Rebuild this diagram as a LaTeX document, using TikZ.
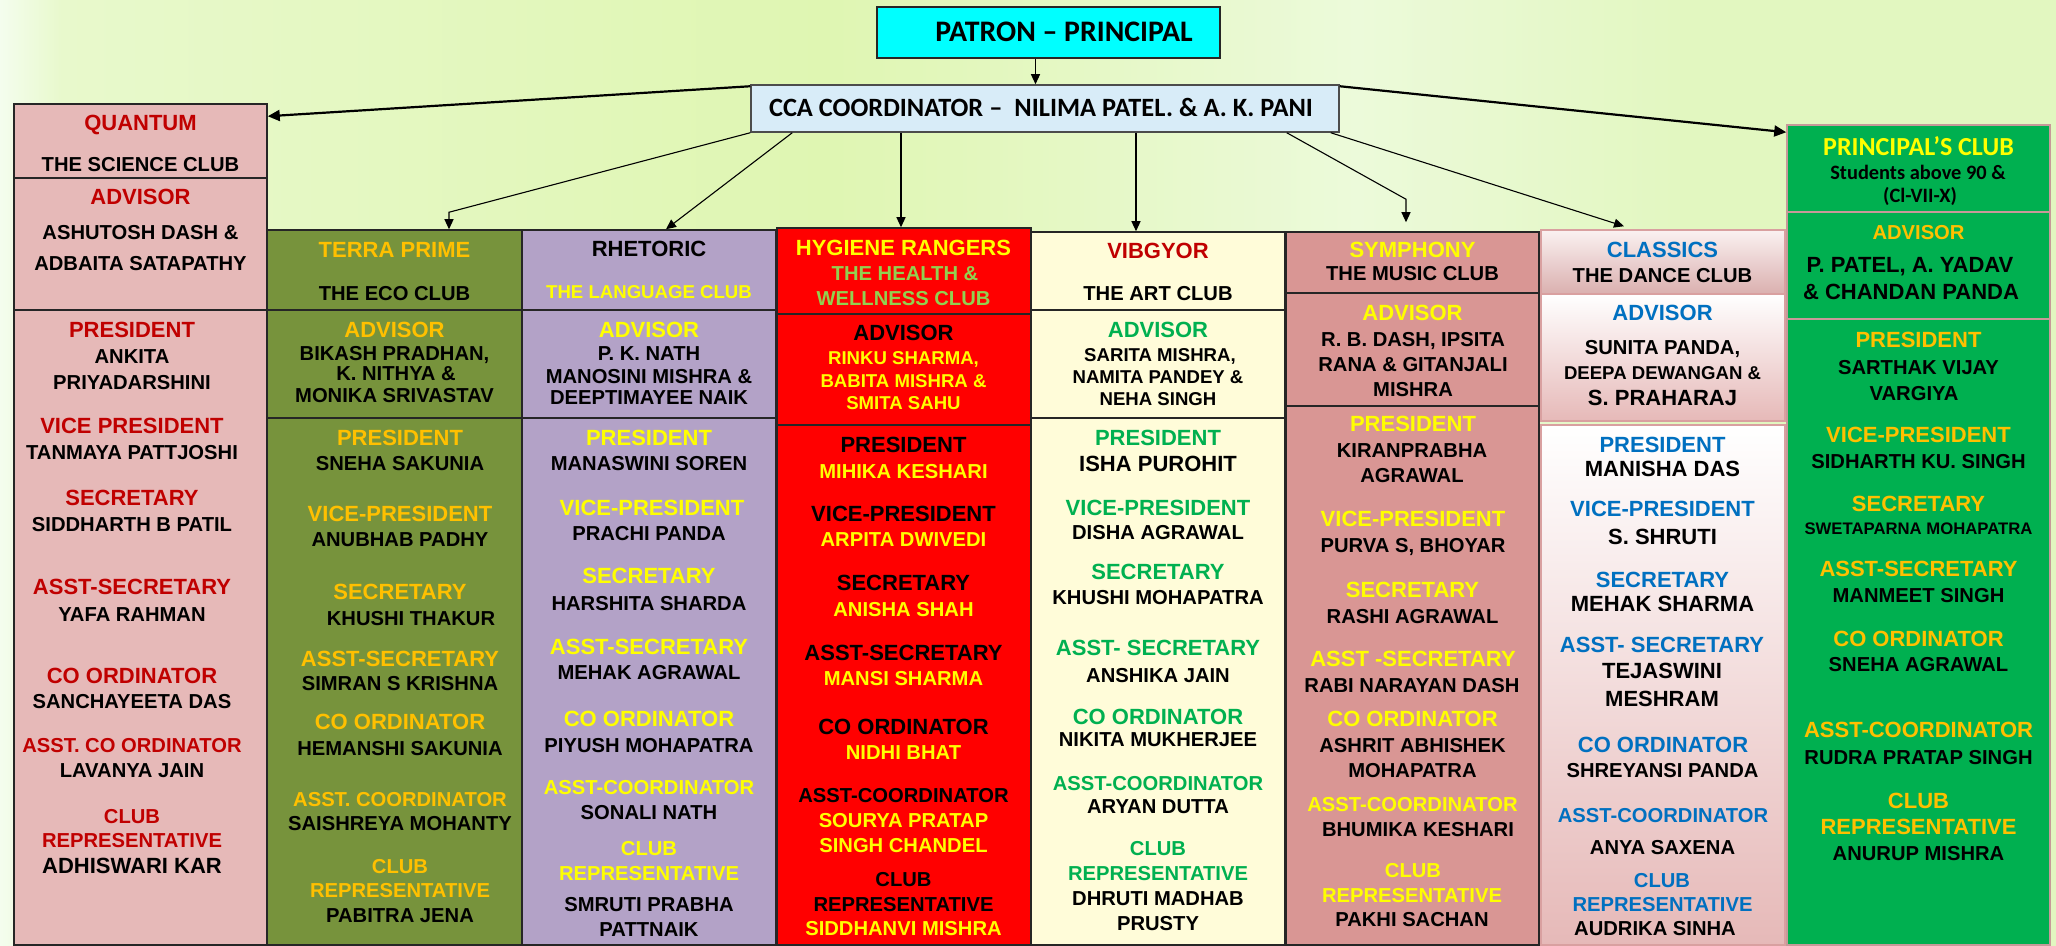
\documentclass[tikz,border=0pt]{standalone}
\usepackage{fontspec}
\setmainfont{Liberation Sans}
\newfontfamily\calfont{Carlito}
\usetikzlibrary{arrows.meta,calc,fit}
\definecolor{qred}{HTML}{C00000}
\definecolor{gold}{HTML}{FFC000}
\definecolor{yel}{HTML}{FFFF00}
\definecolor{hgreen}{HTML}{92D050}
\definecolor{vgreen}{HTML}{00B050}
\definecolor{cblue}{HTML}{0070C0}
\definecolor{qpink}{HTML}{E6B9B8}
\definecolor{olive}{HTML}{77933C}
\definecolor{lav}{HTML}{B3A2C7}
\definecolor{hred}{HTML}{FF0000}
\definecolor{cream}{HTML}{FFFCD9}
\definecolor{rose}{HTML}{D99694}
\definecolor{pgreen}{HTML}{00B050}
\definecolor{cyanbox}{HTML}{00FFFF}
\definecolor{ccabox}{HTML}{D8ECF8}
\definecolor{pinkline}{HTML}{D9A0A0}
\definecolor{bgL}{HTML}{F4FDEE}
\definecolor{bgLL}{HTML}{E8F9CC}
\definecolor{bgM}{HTML}{DFF6B2}
\definecolor{bgW}{HTML}{ECFADA}
\definecolor{bgR}{HTML}{E2F7C0}
\pgfdeclarehorizontalshading{bgsh}{100bp}{color(0bp)=(bgL); color(25bp)=(bgL); color(26.5bp)=(bgLL); color(45bp)=(bgM); color(58bp)=(bgW); color(66bp)=(bgR); color(75bp)=(bgR); color(100bp)=(bgR)}
\newcounter{tn}
\newcommand\ptx[4]{\stepcounter{tn}\node[#3] (t\arabic{tn}) at (#1,#2) {#4};}
\begin{document}
\begin{tikzpicture}[x=0.5pt,y=-0.5pt,
  cbox/.style={draw=black!85,line width=0.75pt,inner sep=0pt},
  L/.style={font=\bfseries\fontsize{11}{13}\selectfont,text height=7.9pt,text depth=0pt,inner sep=0pt},
  N/.style={font=\bfseries\fontsize{10.1}{12}\selectfont,text height=7.2pt,text depth=0pt,inner sep=0pt},
  S/.style={font=\bfseries\fontsize{9.3}{11}\selectfont,text height=6.7pt,text depth=0pt,inner sep=0pt},
  XS/.style={font=\bfseries\fontsize{8.35}{10}\selectfont,text height=6pt,text depth=0pt,inner sep=0pt},
  CT/.style={font=\calfont\bfseries\fontsize{13}{15}\selectfont,text height=8.4pt,text depth=0pt,inner sep=0pt},
  CS/.style={font=\calfont\bfseries\fontsize{10.2}{12}\selectfont,text height=6.6pt,text depth=0pt,inner sep=0pt},
  arr/.style={draw=black,line width=0.55pt,-{Triangle[length=5pt,width=4.5pt]}},
  tarr/.style={draw=black,line width=1.1pt,-{Triangle[length=6pt,width=5.5pt]}}]
\useasboundingbox (0,0) rectangle (2056,946);
\shade[shading=bgsh] (0,0) rectangle (2056,946);

% top boxes
\node[cbox,fill=cyanbox,fit={(877,7) (1220,58)}] (patron) {};
\node[cbox,draw=black!70,fill=ccabox,fit={(751,85) (1339,132)}] (cca) {};
\node[font=\calfont\bfseries\fontsize{14.9}{17}\selectfont,text height=9.6pt,text depth=0pt,inner sep=0pt] (ptxt) at (1064,32) {PATRON – PRINCIPAL};
\node[font=\calfont\bfseries\fontsize{13.2}{15}\selectfont,text height=8.5pt,text depth=0pt,inner sep=0pt] (ctxt) at (1041,108) {CCA COORDINATOR –\ \ NILIMA PATEL. \& A. K. PANI};

% Quantum
\node[cbox,fill=qpink,fit={(14,104) (267,178)}] (q1) {};
\node[cbox,fill=qpink,fit={(14,178) (267,310)}] (q2) {};
\node[cbox,fill=qpink,fit={(14,310) (267,945)}] (q3) {};
% Terra
\node[cbox,fill=olive,fit={(267,230) (522,310)}] (te1) {};
\node[cbox,fill=olive,fit={(267,310) (522,418)}] (te2) {};
\node[cbox,fill=olive,fit={(267,418) (522,945)}] (te3) {};
% Rhetoric
\node[cbox,fill=lav,fit={(522,230) (776,310)}] (rh1) {};
\node[cbox,fill=lav,fit={(522,310) (776,418)}] (rh2) {};
\node[cbox,fill=lav,fit={(522,418) (776,945)}] (rh3) {};
% Hygiene
\node[cbox,fill=hred,fit={(777,228) (1031,314)}] (hy1) {};
\node[cbox,fill=hred,fit={(777,314) (1031,425)}] (hy2) {};
\node[cbox,fill=hred,fit={(777,425) (1031,945)}] (hy3) {};
% Vibgyor
\node[cbox,fill=cream,fit={(1031,232) (1285,310)}] (vb1) {};
\node[cbox,fill=cream,fit={(1031,310) (1285,418)}] (vb2) {};
\node[cbox,fill=cream,fit={(1031,418) (1285,945)}] (vb3) {};
% Symphony
\node[cbox,fill=rose,fit={(1286,232) (1539,293)}] (sy1) {};
\node[cbox,fill=rose,fit={(1286,293) (1539,406)}] (sy2) {};
\node[cbox,fill=rose,fit={(1286,406) (1539,945)}] (sy3) {};
% Classics
\node[cbox,draw=pinkline,top color=white!80!qpink,bottom color=qpink!95!black,fit={(1541,230) (1785,294)}] (cl1) {};
\node[cbox,draw=pinkline,top color=white,bottom color=qpink,fit={(1541,294) (1785,421)}] (cl2) {};
\node[cbox,draw=pinkline,top color=white,bottom color=qpink,fit={(1541,425) (1785,945)}] (cl3) {};
% Principal
\node[cbox,draw=pinkline!80!gray,fill=pgreen,fit={(1787,125) (2050,212)}] (pr1) {};
\node[cbox,draw=pinkline!80!gray,fill=pgreen,fit={(1787,212) (2050,319)}] (pr2) {};
\node[cbox,draw=pinkline!80!gray,fill=pgreen,fit={(1787,319) (2050,945)}] (pr3) {};

% connectors
\coordinate (pa) at ($(patron.south)+(-13,0)$);
\draw[arr] (pa) -- (pa |- cca.north);
\draw[tarr] ($(cca.north west)+(0,2)$) -- ($(q1.north east)+(0,13)$);
\draw[tarr] ($(cca.north east)+(0,2)$) -- ($(pr1.north west)+(0,8)$);
\coordinate (tb) at ($(te1.north)+(54.5,-17)$);
\draw[arr] (cca.south west) -- (tb) -- (tb |- te1.north);
\draw[arr] ($(cca.south west)+(42,0)$) -- ($(rh1.north)+(17,0)$);
\coordinate (ha) at ($(hy1.north)+(-3,0)$);
\draw[arr] (ha |- cca.south) -- (ha);
\coordinate (va) at ($(vb1.north)+(-22,0)$);
\draw[arr] (va |- cca.south) -- (va);
\coordinate (sb) at ($(sy1.north)+(-6.5,-32)$);
\coordinate (se) at ($(sy1.north)+(-6.5,-9)$);
\draw[arr] ($(cca.south east)+(-53,0)$) -- (sb) -- (se);
\coordinate (ce) at ($(cl1.north)+(-39,-3)$);
\draw[arr] ($(cca.south east)+(-9,0)$) -- (ce);

% Quantum texts
\ptx{140.5}{123}{L,qred}{QUANTUM}
\ptx{140.5}{164}{N}{THE SCIENCE CLUB}
\ptx{140.5}{197}{L,qred}{ADVISOR}
\ptx{140.5}{232}{N}{ASHUTOSH DASH \&}
\ptx{140.5}{263}{N}{ADBAITA SATAPATHY}
\ptx{132}{330}{L,qred}{PRESIDENT}
\ptx{132}{356}{N}{ANKITA}
\ptx{132}{382}{N}{PRIYADARSHINI}
\ptx{132}{426}{L,qred}{VICE PRESIDENT}
\ptx{132}{452}{N}{TANMAYA PATTJOSHI}
\ptx{132}{498}{L,qred}{SECRETARY}
\ptx{132}{524}{N}{SIDDHARTH B PATIL}
\ptx{132}{587}{L,qred}{ASST-SECRETARY}
\ptx{132}{614}{N}{YAFA RAHMAN}
\ptx{132}{676}{L,qred}{CO ORDINATOR}
\ptx{132}{701}{N}{SANCHAYEETA DAS}
\ptx{132}{745}{N,qred}{ASST. CO ORDINATOR}
\ptx{132}{770}{N}{LAVANYA JAIN}
\ptx{132}{816}{N,qred}{CLUB}
\ptx{132}{840}{N,qred}{REPRESENTATIVE}
\ptx{132}{866}{L}{ADHISWARI KAR}

% Terra texts
\ptx{394.5}{250}{L,gold}{TERRA PRIME}
\ptx{394.5}{293}{N}{THE ECO CLUB}
\ptx{394.5}{330}{L,gold}{ADVISOR}
\ptx{394.5}{353}{N}{BIKASH PRADHAN,}
\ptx{396}{373}{N}{K. NITHYA \&}
\ptx{394.5}{395}{N}{MONIKA SRIVASTAV}
\ptx{400}{438}{L,gold}{PRESIDENT}
\ptx{400}{463}{N}{SNEHA SAKUNIA}
\ptx{400}{514}{L,gold}{VICE-PRESIDENT}
\ptx{400}{539}{N}{ANUBHAB PADHY}
\ptx{400}{592}{L,gold}{SECRETARY}
\ptx{411}{618}{N}{KHUSHI THAKUR}
\ptx{400}{659}{L,gold}{ASST-SECRETARY}
\ptx{400}{683}{N}{SIMRAN S KRISHNA}
\ptx{400}{722}{L,gold}{CO ORDINATOR}
\ptx{400}{748}{N}{HEMANSHI SAKUNIA}
\ptx{400}{799}{N,gold}{ASST. COORDINATOR}
\ptx{400}{823}{N}{SAISHREYA MOHANTY}
\ptx{400}{866}{N,gold}{CLUB}
\ptx{400}{890}{N,gold}{REPRESENTATIVE}
\ptx{400}{915}{N}{PABITRA JENA}

% Rhetoric texts
\ptx{649}{249}{L}{RHETORIC}
\ptx{649}{292}{S,yel}{THE LANGUAGE CLUB}
\ptx{649}{330}{L,yel}{ADVISOR}
\ptx{649}{353}{N}{P. K. NATH}
\ptx{649}{376}{N}{MANOSINI MISHRA \&}
\ptx{649}{397}{N}{DEEPTIMAYEE NAIK}
\ptx{649}{438}{L,yel}{PRESIDENT}
\ptx{649}{463}{N}{MANASWINI SOREN}
\ptx{652}{508}{L,yel}{VICE-PRESIDENT}
\ptx{649}{533}{N}{PRACHI PANDA}
\ptx{649}{576}{L,yel}{SECRETARY}
\ptx{649}{603}{N}{HARSHITA SHARDA}
\ptx{649}{647}{L,yel}{ASST-SECRETARY}
\ptx{649}{672}{N}{MEHAK AGRAWAL}
\ptx{649}{719}{L,yel}{CO ORDINATOR}
\ptx{649}{745}{N}{PIYUSH MOHAPATRA}
\ptx{649}{787}{N,yel}{ASST-COORDINATOR}
\ptx{649}{812}{N}{SONALI NATH}
\ptx{649}{848}{N,yel}{CLUB}
\ptx{649}{873}{N,yel}{REPRESENTATIVE}
\ptx{649}{904}{N}{SMRUTI PRABHA}
\ptx{649}{929}{N}{PATTNAIK}

% Hygiene texts
\ptx{903.5}{248}{L,yel}{HYGIENE RANGERS}
\ptx{905}{273}{N,hgreen}{THE HEALTH \&}
\ptx{903.5}{298}{N,hgreen}{WELLNESS CLUB}
\ptx{903.5}{333}{L}{ADVISOR}
\ptx{903.5}{358}{S,yel}{RINKU SHARMA,}
\ptx{903.5}{381}{S,yel}{BABITA MISHRA \&}
\ptx{903.5}{403}{S,yel}{SMITA SAHU}
\ptx{903.5}{445}{L}{PRESIDENT}
\ptx{903.5}{471}{N,yel}{MIHIKA KESHARI}
\ptx{903.5}{514}{L}{VICE-PRESIDENT}
\ptx{903.5}{539}{N,yel}{ARPITA DWIVEDI}
\ptx{903.5}{583}{L}{SECRETARY}
\ptx{903.5}{609}{N,yel}{ANISHA SHAH}
\ptx{903.5}{653}{L}{ASST-SECRETARY}
\ptx{903.5}{678}{N,yel}{MANSI SHARMA}
\ptx{903.5}{727}{L}{CO ORDINATOR}
\ptx{903.5}{752}{N,yel}{NIDHI BHAT}
\ptx{903.5}{795}{N}{ASST-COORDINATOR}
\ptx{903.5}{820}{N,yel}{SOURYA PRATAP}
\ptx{903.5}{845}{N,yel}{SINGH CHANDEL}
\ptx{903.5}{879}{N}{CLUB}
\ptx{903.5}{904}{N}{REPRESENTATIVE}
\ptx{903.5}{928}{N,yel}{SIDDHANVI MISHRA}

% Vibgyor texts
\ptx{1158}{251}{L,qred}{VIBGYOR}
\ptx{1158}{293}{N}{THE ART CLUB}
\ptx{1158}{330}{L,vgreen}{ADVISOR}
\ptx{1160}{355}{S}{SARITA MISHRA,}
\ptx{1158}{377}{S}{NAMITA PANDEY \&}
\ptx{1158}{399}{S}{NEHA SINGH}
\ptx{1158}{438}{L,vgreen}{PRESIDENT}
\ptx{1158}{464}{L}{ISHA PUROHIT}
\ptx{1158}{508}{L,vgreen}{VICE-PRESIDENT}
\ptx{1158}{532}{N}{DISHA AGRAWAL}
\ptx{1158}{572}{L,vgreen}{SECRETARY}
\ptx{1158}{597}{N}{KHUSHI MOHAPATRA}
\ptx{1158}{648}{L,vgreen}{ASST- SECRETARY}
\ptx{1158}{675}{N}{ANSHIKA JAIN}
\ptx{1158}{717}{L,vgreen}{CO ORDINATOR}
\ptx{1158}{739}{N}{NIKITA MUKHERJEE}
\ptx{1158}{783}{N,vgreen}{ASST-COORDINATOR}
\ptx{1158}{806}{N}{ARYAN DUTTA}
\ptx{1158}{848}{N,vgreen}{CLUB}
\ptx{1158}{873}{N,vgreen}{REPRESENTATIVE}
\ptx{1158}{898}{N}{DHRUTI MADHAB}
\ptx{1158}{923}{N}{PRUSTY}

% Symphony texts
\ptx{1412.5}{250}{L,yel}{SYMPHONY}
\ptx{1412.5}{273}{N}{THE MUSIC CLUB}
\ptx{1412.5}{313}{L,yel}{ADVISOR}
\ptx{1413}{339}{N}{R. B. DASH, IPSITA}
\ptx{1413}{364}{N}{RANA \& GITANJALI}
\ptx{1413}{389}{N}{MISHRA}
\ptx{1413}{424}{L,yel}{PRESIDENT}
\ptx{1412}{450}{N}{KIRANPRABHA}
\ptx{1412}{475}{N}{AGRAWAL}
\ptx{1413}{519}{L,yel}{VICE-PRESIDENT}
\ptx{1413}{545}{N}{PURVA S, BHOYAR}
\ptx{1412.5}{590}{L,yel}{SECRETARY}
\ptx{1412.5}{616}{N}{RASHI AGRAWAL}
\ptx{1413}{659}{L,yel}{ASST -SECRETARY}
\ptx{1412}{685}{N}{RABI NARAYAN DASH}
\ptx{1412.5}{719}{L,yel}{CO ORDINATOR}
\ptx{1412.5}{745}{N}{ASHRIT ABHISHEK}
\ptx{1412.5}{770}{N}{MOHAPATRA}
\ptx{1412.5}{804}{N,yel}{ASST-COORDINATOR}
\ptx{1418}{829}{N}{BHUMIKA KESHARI}
\ptx{1413}{870}{N,yel}{CLUB}
\ptx{1412}{895}{N,yel}{REPRESENTATIVE}
\ptx{1412}{919}{N}{PAKHI SACHAN}

% Classics texts
\ptx{1662.5}{250}{L,cblue}{CLASSICS}
\ptx{1662.5}{275}{N}{THE DANCE CLUB}
\ptx{1662.5}{313}{L,cblue}{ADVISOR}
\ptx{1662.5}{347}{N}{SUNITA PANDA,}
\ptx{1662.5}{373}{S}{DEEPA DEWANGAN \&}
\ptx{1662.5}{398}{L}{S. PRAHARAJ}
\ptx{1662.5}{445}{L,cblue}{PRESIDENT}
\ptx{1662.5}{469}{L}{MANISHA DAS}
\ptx{1662.5}{509}{L,cblue}{VICE-PRESIDENT}
\ptx{1662.5}{537}{L}{S. SHRUTI}
\ptx{1662.5}{580}{L,cblue}{SECRETARY}
\ptx{1662.5}{604}{L}{MEHAK SHARMA}
\ptx{1662}{645}{L,cblue}{ASST- SECRETARY}
\ptx{1662}{671}{L}{TEJASWINI}
\ptx{1662}{699}{L}{MESHRAM}
\ptx{1663}{745}{L,cblue}{CO ORDINATOR}
\ptx{1662.5}{770}{N}{SHREYANSI PANDA}
\ptx{1663}{815}{N,cblue}{ASST-COORDINATOR}
\ptx{1662.5}{847}{N}{ANYA SAXENA}
\ptx{1662}{880}{N,cblue}{CLUB}
\ptx{1662.5}{904}{N,cblue}{REPRESENTATIVE}
\ptx{1655}{928}{N}{AUDRIKA SINHA}

% Principal texts
\ptx{1918.5}{147}{CT,yel}{PRINCIPAL’S CLUB}
\ptx{1918}{173}{CS}{Students above 90 \&}
\ptx{1920}{196}{CS}{(Cl-VII-X)}
\ptx{1918.5}{232}{N,gold}{ADVISOR}
\ptx{1910}{265}{L}{P. PATEL, A. YADAV}
\ptx{1911}{292}{L}{\& CHANDAN PANDA}
\ptx{1918.5}{340}{L,gold}{PRESIDENT}
\ptx{1918.5}{367}{N}{SARTHAK VIJAY}
\ptx{1914}{393}{N}{VARGIYA}
\ptx{1918.5}{435}{L,gold}{VICE-PRESIDENT}
\ptx{1918.5}{461}{N}{SIDHARTH KU. SINGH}
\ptx{1918.5}{504}{L,gold}{SECRETARY}
\ptx{1918.5}{528}{XS}{SWETAPARNA MOHAPATRA}
\ptx{1918.5}{569}{L,gold}{ASST-SECRETARY}
\ptx{1918.5}{595}{N}{MANMEET SINGH}
\ptx{1918.5}{639}{L,gold}{CO ORDINATOR}
\ptx{1918.5}{664}{N}{SNEHA AGRAWAL}
\ptx{1918.5}{730}{L,gold}{ASST-COORDINATOR}
\ptx{1918.5}{757}{N}{RUDRA PRATAP SINGH}
\ptx{1918.5}{801}{L,gold}{CLUB}
\ptx{1918.5}{827}{L,gold}{REPRESENTATIVE}
\ptx{1918.5}{853}{N}{ANURUP MISHRA}
\end{tikzpicture}
\end{document}
